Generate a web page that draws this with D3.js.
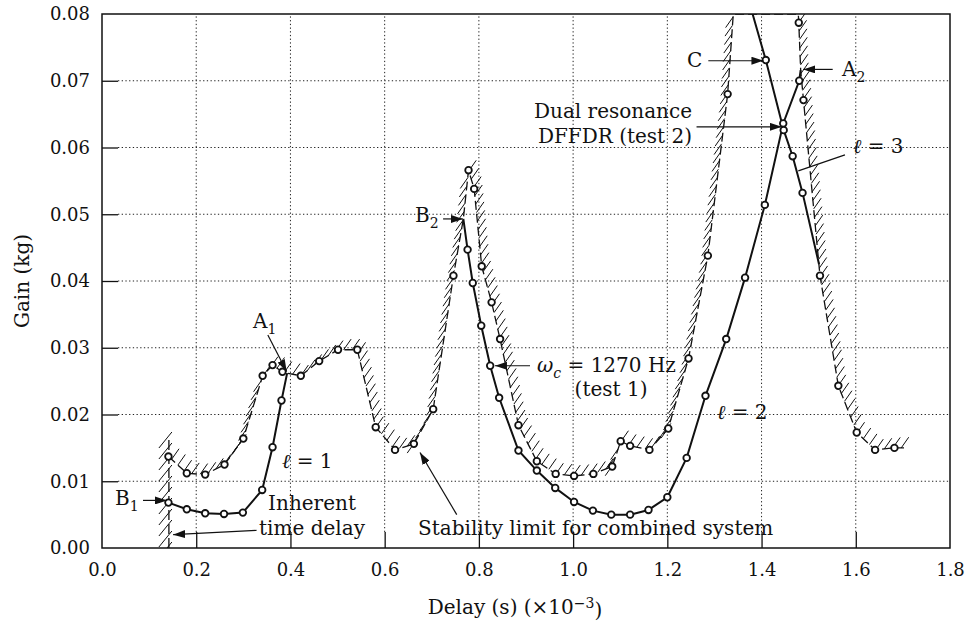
<!DOCTYPE html>
<html>
<head>
<meta charset="utf-8">
<script src="https://cdnjs.cloudflare.com/ajax/libs/d3/7.8.5/d3.min.js"></script>
<style>
body { margin: 0; background: #fff; }
text { font-family: "DejaVu Serif", serif; fill: #111; }
</style>
</head>
<body>
<svg width="967" height="626"></svg>
<script>
"use strict";

// Axis ticks.

var xTicks = [0.0, 0.2, 0.4, 0.6, 0.8, 1.0, 1.2, 1.4, 1.6, 1.8];
var yTicks = [0.00, 0.01, 0.02, 0.03, 0.04, 0.05, 0.06, 0.07, 0.08];

// Theoretical stability branches (solid, l = 1, 2, 3).

var l1X = [0.141, 0.180, 0.219, 0.259, 0.299, 0.340, 0.362, 0.381];
var l1Y = [0.0068, 0.0058, 0.0052, 0.0051, 0.0053, 0.0087, 0.0151, 0.0221];

var l2X = [0.776, 0.787, 0.805, 0.824, 0.843, 0.884, 0.923, 0.962, 1.002, 1.042,
           1.081, 1.121, 1.160, 1.200, 1.241, 1.281, 1.325, 1.365, 1.407, 1.446, 1.480];
var l2Y = [0.0447, 0.0397, 0.0333, 0.0273, 0.0225, 0.0146, 0.0116, 0.0090, 0.0069, 0.0056,
           0.0050, 0.0050, 0.0057, 0.0076, 0.0135, 0.0228, 0.0313, 0.0405, 0.0514, 0.0636, 0.0700];

var l3X = [1.409, 1.447, 1.466, 1.487];
var l3Y = [0.0731, 0.0626, 0.0587, 0.0532];

// Measured limit, test 1 (dashed, open circles).

var test1X = [0.141, 0.180, 0.219, 0.260, 0.300, 0.341, 0.362, 0.383, 0.422, 0.461,
              0.501, 0.542, 0.581, 0.622, 0.662, 0.703, 0.746, 0.778, 0.790, 0.806,
              0.827, 0.845, 0.884, 0.923, 0.963, 1.002, 1.043, 1.083, 1.101, 1.121,
              1.162, 1.202, 1.245, 1.286, 1.328, 1.479, 1.489, 1.524, 1.563, 1.602,
              1.641, 1.682];
var test1Y = [0.0137, 0.0112, 0.0110, 0.0125, 0.0164, 0.0258, 0.0274, 0.0264, 0.0258, 0.0280,
              0.0297, 0.0297, 0.0181, 0.0147, 0.0156, 0.0208, 0.0408, 0.0566, 0.0538, 0.0422,
              0.0368, 0.0313, 0.0184, 0.0130, 0.0111, 0.0108, 0.0111, 0.0122, 0.0160, 0.0153,
              0.0147, 0.0179, 0.0284, 0.0438, 0.0680, 0.0787, 0.0671, 0.0408, 0.0243, 0.0173,
              0.0147, 0.0150];

// Junctions where the branches meet the measured limit (no marker).

var pointA1 = [0.393, 0.0262];
var pointB2 = [0.767, 0.0493];
var pointA2 = [1.483, 0.0716];
var l3Top = [1.381, 0.0800];
var l3End = [1.522, 0.0425];
var test1TopLeft = [1.340, 0.0800];
var test1TopRight = [1.478, 0.0800];
var test1Tail = [1.704, 0.0150];

// Inherent time delay.

var timeDelay = 0.142;
var timeDelayTop = 0.0165;

// Annotations (data units).

var labels = [
    {x: 0.3205, y: 0.0329, anchor: "start", parts: [["A"], ["1", "sub"]]},
    {x: 0.0276, y: 0.00649, anchor: "start", parts: [["B"], ["1", "sub"]]},
    {x: 0.6644, y: 0.0489, anchor: "start", parts: [["B"], ["2", "sub"]]},
    {x: 1.2418, y: 0.0720, anchor: "start", parts: [["C"]]},
    {x: 1.5708, y: 0.0707, anchor: "start", parts: [["A"], ["2", "sub"]]},
    {x: 0.382, y: 0.0120, anchor: "start", parts: [["\u2113", "it"], [" = 1"]]},
    {x: 1.3054, y: 0.0194, anchor: "start", parts: [["\u2113", "it"], [" = 2"]]},
    {x: 1.594, y: 0.0592, anchor: "start", parts: [["\u2113", "it"], [" = 3"]]},
    {x: 0.4458, y: 0.0057, anchor: "middle", parts: [["Inherent"]]},
    {x: 0.4458, y: 0.0020, anchor: "middle", parts: [["time delay"]]},
    {x: 1.2524, y: 0.0644, anchor: "end", parts: [["Dual resonance"]]},
    {x: 1.2524, y: 0.0606, anchor: "end", parts: [["DFFDR (test 2)"]]},
    {x: 0.9234, y: 0.0264, anchor: "start", parts: [["\u03c9", "it"], ["c", "itsub"], [" = 1270 Hz"]]},
    {x: 1.0805, y: 0.0227, anchor: "middle", parts: [["(test 1)"]]},
    {x: 0.6708, y: 0.0020, anchor: "start", parts: [["Stability limit for combined system"]]}
];

var arrows = [
    {x1: 0.087, y1: 0.00713, x2: 0.138, y2: 0.00713},
    {x1: 0.352, y1: 0.0319, x2: 0.392, y2: 0.02645},
    {x1: 0.328, y1: 0.00264, x2: 0.151, y2: 0.0020},
    {x1: 0.724, y1: 0.0493, x2: 0.766, y2: 0.0493},
    {x1: 0.9085, y1: 0.0273, x2: 0.834, y2: 0.0273},
    {x1: 0.753, y1: 0.0050, x2: 0.675, y2: 0.0143},
    {x1: 1.287, y1: 0.0730, x2: 1.404, y2: 0.0730},
    {x1: 1.551, y1: 0.0717, x2: 1.4886, y2: 0.0717},
    {x1: 1.262, y1: 0.0631, x2: 1.443, y2: 0.0631}
];
var leader = {x1: 1.577, y1: 0.0589, x2: 1.478, y2: 0.0565};

// SVG and scales.

var svg = d3.select("svg");
var width = +svg.attr("width");
var height = +svg.attr("height");

var Left = 102, Right = 950, Top = 14, Bottom = 548;
var TickLen = 16;
var TickFont = "18px", LabelFont = "20px", SubFont = "14px";

var x = d3.scaleLinear().domain([0, 1.8]).range([Left, Right]);
var y = d3.scaleLinear().domain([0, 0.08]).range([Bottom, Top]);

var zip = function(xs, ys){
    return xs.map(function(v, i){ return [v, ys[i]]; });
};

svg.append("defs").append("clipPath").attr("id", "plot")
    .append("rect")
    .attr("x", Left).attr("y", Top)
    .attr("width", Right - Left).attr("height", Bottom - Top);

var arrowHead = svg.select("defs").append("marker")
    .attr("id", "head")
    .attr("markerUnits", "userSpaceOnUse")
    .attr("viewBox", "0 0 12 8")
    .attr("refX", 12).attr("refY", 4)
    .attr("markerWidth", 12).attr("markerHeight", 8)
    .attr("orient", "auto");
arrowHead.append("path").attr("d", "M0,0 L12,4 L0,8 Z").attr("fill", "#111");

// Grid.

var grid = svg.append("g").attr("stroke", "#222").attr("stroke-width", 1)
    .attr("stroke-dasharray", "1.3,2.4");

grid.selectAll("line.gx")
    .data(xTicks.slice(1, -1))
    .enter().append("line")
        .attr("x1", function(d){ return x(d); })
        .attr("x2", function(d){ return x(d); })
        .attr("y1", Bottom - TickLen)
        .attr("y2", Top);

grid.selectAll("line.gy")
    .data(yTicks.slice(1, -1))
    .enter().append("line")
        .attr("x1", Left + TickLen)
        .attr("x2", Right)
        .attr("y1", function(d){ return y(d); })
        .attr("y2", function(d){ return y(d); });

// Axes.

var xAxis = svg.append("g")
    .attr("transform", "translate(0," + Bottom + ")")
    .call(d3.axisBottom(x).tickValues(xTicks).tickFormat(d3.format(".1f"))
        .tickSize(-TickLen).tickPadding(15));

var yAxis = svg.append("g")
    .attr("transform", "translate(" + Left + ",0)")
    .call(d3.axisLeft(y).tickValues(yTicks).tickFormat(d3.format(".2f"))
        .tickSize(-TickLen).tickPadding(12));

[xAxis, yAxis].forEach(function(a){
    a.select(".domain").remove();
    a.selectAll(".tick line").attr("stroke", "#111").attr("stroke-width", 1.3);
    a.selectAll(".tick text")
        .style("font-family", "'DejaVu Serif', serif")
        .style("font-size", TickFont)
        .attr("fill", "#111");
});
xAxis.selectAll(".tick").filter(function(d){ return d === 0 || d === 1.8; })
    .select("line").remove();
yAxis.selectAll(".tick").filter(function(d){ return d === 0 || d === 0.08; })
    .select("line").remove();

svg.append("rect")
    .attr("x", Left).attr("y", Top)
    .attr("width", Right - Left).attr("height", Bottom - Top)
    .attr("fill", "none").attr("stroke", "#111").attr("stroke-width", 1.5);

svg.append("text")
    .attr("x", 515).attr("y", 614)
    .attr("text-anchor", "middle")
    .style("font-size", LabelFont)
    .call(function(t){
        t.append("tspan").text("Delay (s) (\u00d710");
        t.append("tspan").attr("dy", "-0.45em").style("font-size", SubFont).text("\u22123");
        t.append("tspan").attr("dy", "0.45em").text(")");
    });

svg.append("text")
    .attr("transform", "translate(22," + (Top + Bottom) / 2 + ") rotate(-90)")
    .attr("text-anchor", "middle")
    .attr("dy", "0.35em")
    .style("font-size", LabelFont)
    .text("Gain (kg)");

// Curves.

var plot = svg.append("g").attr("clip-path", "url(#plot)");

var line = d3.line()
    .x(function(d){ return x(d[0]); })
    .y(function(d){ return y(d[1]); });

var test1Line = zip(test1X, test1Y)
    .concat([pointA1, pointB2, test1TopLeft, test1TopRight, pointA2, test1Tail])
    .sort(function(a, b){ return a[0] - b[0]; });

var l1Line = zip(l1X, l1Y).concat([pointA1]);
var l2Line = [pointB2].concat(zip(l2X, l2Y), [pointA2]);
var l3Line = [l3Top].concat(zip(l3X, l3Y), [l3End]);

// Hatching on the unstable side: short "/" strokes along a pixel polyline.

var Hatch = function(pts, spacing, len, angle){
    var ux = Math.cos(angle * Math.PI / 180), uy = -Math.sin(angle * Math.PI / 180);
    var segs = [];
    var carry = spacing / 2;
    for (var i = 0; i < pts.length - 1; i++){
        var ax = pts[i][0], ay = pts[i][1];
        var dx = pts[i+1][0] - ax, dy = pts[i+1][1] - ay;
        var L = Math.sqrt(dx*dx + dy*dy);
        if (L === 0) continue;
        var tx = dx / L, ty = dy / L;
        var s = (ux*ty - uy*tx) >= 0 ? 1 : -1;
        var d = carry;
        for (; d < L; d += spacing){
            var px = ax + tx*d, py = ay + ty*d;
            segs.push([px, py, px + s*ux*len, py + s*uy*len]);
        }
        carry = d - L;
    }
    return segs;
};

var test1Px = test1Line.map(function(d){ return [x(d[0]), y(d[1])]; });
var hatches = Hatch(test1Px, 8.5, 13, 55);

var delayHatch = d3.range(y(0) + 2, y(timeDelayTop), -11).map(function(py){
    var px = x(timeDelay);
    return [px - 10, py + 8, px + 3, py - 8];
});

plot.append("g").attr("stroke", "#111").attr("stroke-width", 1)
    .selectAll("line")
    .data(hatches.concat(delayHatch))
    .enter().append("line")
        .attr("x1", function(d){ return d[0]; })
        .attr("y1", function(d){ return d[1]; })
        .attr("x2", function(d){ return d[2]; })
        .attr("y2", function(d){ return d[3]; });

plot.append("line")
    .attr("x1", x(timeDelay)).attr("x2", x(timeDelay))
    .attr("y1", y(0)).attr("y2", y(timeDelayTop))
    .attr("stroke", "#111").attr("stroke-width", 1.3)
    .attr("stroke-dasharray", "10,4");

plot.append("path")
    .datum(test1Line)
    .attr("d", line)
    .attr("fill", "none")
    .attr("stroke", "#111")
    .attr("stroke-width", 1.3)
    .attr("stroke-dasharray", "9,4");

plot.selectAll("path.branch")
    .data([l1Line, l2Line, l3Line])
    .enter().append("path")
        .attr("d", line)
        .attr("fill", "none")
        .attr("stroke", "#111")
        .attr("stroke-width", 2);

var markerPts = zip(test1X, test1Y).concat(zip(l1X, l1Y), zip(l2X, l2Y), zip(l3X, l3Y));

plot.selectAll("circle")
    .data(markerPts)
    .enter().append("circle")
        .attr("cx", function(d){ return x(d[0]); })
        .attr("cy", function(d){ return y(d[1]); })
        .attr("r", 3.3)
        .attr("fill", "#fff")
        .attr("stroke", "#111")
        .attr("stroke-width", 1.8);

// Annotations.

var ann = svg.append("g");

ann.selectAll("line.arrow")
    .data(arrows)
    .enter().append("line")
        .attr("x1", function(d){ return x(d.x1); })
        .attr("y1", function(d){ return y(d.y1); })
        .attr("x2", function(d){ return x(d.x2); })
        .attr("y2", function(d){ return y(d.y2); })
        .attr("stroke", "#111")
        .attr("stroke-width", 1.2)
        .attr("marker-end", "url(#head)");

ann.append("line")
    .attr("x1", x(leader.x1)).attr("y1", y(leader.y1))
    .attr("x2", x(leader.x2)).attr("y2", y(leader.y2))
    .attr("stroke", "#111").attr("stroke-width", 1.2);

labels.forEach(function(lb){
    var t = ann.append("text")
        .attr("x", x(lb.x)).attr("y", y(lb.y))
        .attr("text-anchor", lb.anchor)
        .style("font-size", LabelFont);
    var shift = 0;
    lb.parts.forEach(function(p){
        var ts = t.append("tspan").text(p[0]);
        var sub = p[1] === "sub" || p[1] === "itsub";
        var target = sub ? 6 : 0;
        if (target !== shift){ ts.attr("dy", target - shift); shift = target; }
        if (sub) ts.style("font-size", SubFont);
        if (p[1] === "it" || p[1] === "itsub") ts.style("font-style", "italic");
    });
});
</script>
</body>
</html>
